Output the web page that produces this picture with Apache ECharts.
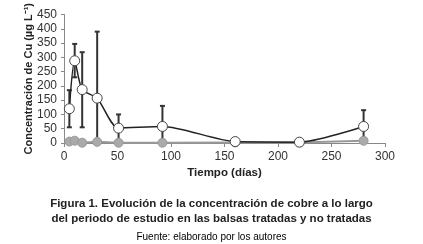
<!DOCTYPE html>
<html>
<head>
<meta charset="utf-8">
<script src="https://cdn.jsdelivr.net/npm/echarts@6/dist/echarts.min.js"></script>
<style>
	html, body { margin: 0; padding: 0; background: #fff; }
	#chart { width: 423px; height: 244px; }
</style>
</head>
<body>
<div id="chart"></div>
<script>
	// días de muestreo
	var days = [5, 10, 17, 31, 51, 92, 160, 220, 280];
	// balsas tratadas (media, límite superior e inferior de la barra de error)
	var treated = [120, 288, 187, 157, 52, 58, 5, 3, 58];
	var treatedHigh = [185, 347, 318, 390, 100, 130, 10, 6, 115];
	var treatedLow = [55, 230, 55, 0, 0, 0, 0, 0, 0];
	// balsas no tratadas
	var untreated = [5, 8, 1, 4, 1, 1, 2, 2, 8];

	var xTicks = [0, 50, 100, 150, 200, 250, 300];
	var yTicks = [0, 50, 100, 150, 200, 250, 300, 350, 400, 450];

	var font = 'Liberation Sans, Arial, sans-serif';

	var errData = days.map(function (d, i) {
		return [d, treatedLow[i], treatedHigh[i]];
	});

	var chart = echarts.init(document.getElementById('chart'));
	var option = {
		animation: false,
		title: [{
			text: 'Figura 1. Evolución de la concentración de cobre a lo largo\ndel periodo de estudio en las balsas tratadas y no tratadas',
			left: 'center',
			top: 191,
			textStyle: {
				fontFamily: font,
				fontSize: 11.5,
				fontWeight: 'bold',
				color: '#222',
				lineHeight: 15,
				align: 'center'
			}
		}, {
			text: 'Fuente: elaborado por los autores',
			left: 'center',
			top: 227,
			textStyle: {
				fontFamily: font,
				fontSize: 10,
				fontWeight: 'normal',
				color: '#000'
			}
		}],
		grid: {
			left: 64,
			right: 38,
			top: 7,
			bottom: 101
		},
		xAxis: {
			type: 'value',
			min: xTicks[0],
			max: xTicks[xTicks.length - 1],
			interval: 50,
			name: 'Tiempo (días)',
			nameLocation: 'middle',
			nameGap: 24,
			nameMoveOverlap: false,
			nameTextStyle: {
				fontFamily: font,
				fontSize: 11.5,
				fontWeight: 'bold',
				color: '#222'
			},
			axisLine: { lineStyle: { color: '#888', width: 1 } },
			axisTick: { show: true, length: 4, lineStyle: { color: '#888' } },
			axisLabel: {
				fontFamily: font,
				fontSize: 12,
				color: '#333',
				margin: 8
			},
			splitLine: { show: false }
		},
		yAxis: {
			type: 'value',
			min: yTicks[0],
			max: yTicks[yTicks.length - 1],
			interval: 50,
			name: 'Concentración de Cu (µg L⁻¹)',
			nameLocation: 'middle',
			nameGap: 30,
			nameMoveOverlap: false,
			nameTextStyle: {
				fontFamily: font,
				fontSize: 11,
				fontWeight: 'bold',
				color: '#222'
			},
			axisLine: { show: true, lineStyle: { color: '#888', width: 1 } },
			axisTick: { show: true, length: 3, lineStyle: { color: '#888' } },
			axisLabel: {
				fontFamily: font,
				fontSize: 12,
				color: '#333',
				margin: 7
			},
			splitLine: { show: false }
		},
		series: [{
			// barras de error
			type: 'custom',
			z: 1,
			data: errData,
			renderItem: function (params, api) {
				var x = api.value(0);
				var lo = api.coord([x, api.value(1)]);
				var hi = api.coord([x, api.value(2)]);
				var cap = 2.5;
				var style = { stroke: '#333', lineWidth: 2 };
				return {
					type: 'group',
					children: [{
						type: 'line',
						shape: { x1: hi[0], y1: hi[1], x2: lo[0], y2: lo[1] },
						style: style
					}, {
						type: 'line',
						shape: { x1: hi[0] - cap, y1: hi[1], x2: hi[0] + cap, y2: hi[1] },
						style: style
					}, {
						type: 'line',
						shape: { x1: lo[0] - cap, y1: lo[1], x2: lo[0] + cap, y2: lo[1] },
						style: style
					}]
				};
			}
		}, {
			name: 'No tratadas',
			type: 'line',
			z: 2,
			data: days.map(function (d, i) { return [d, untreated[i]]; }),
			symbol: 'circle',
			symbolSize: 9,
			lineStyle: { color: '#999', width: 2 },
			itemStyle: { color: '#aaa', borderColor: '#999', borderWidth: 1 }
		}, {
			name: 'Tratadas',
			type: 'line',
			z: 3,
			smooth: 0.25,
			data: days.map(function (d, i) { return [d, treated[i]]; }),
			symbol: 'circle',
			symbolSize: 10,
			lineStyle: { color: '#222', width: 1.5 },
			itemStyle: { color: '#fff', borderColor: '#444', borderWidth: 1 }
		}]
	};
	chart.setOption(option);
</script>
</body>
</html>
